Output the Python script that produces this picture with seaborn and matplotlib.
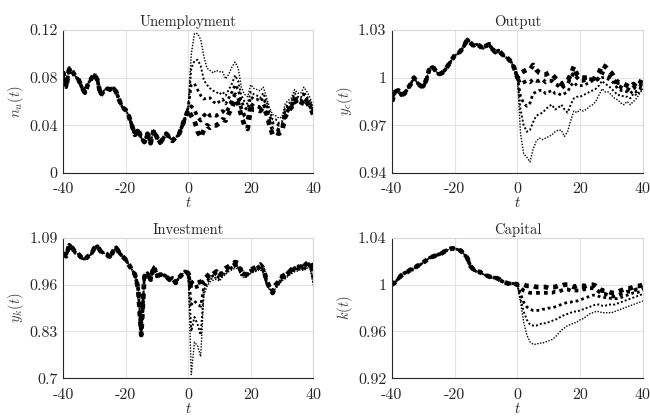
import numpy as np
import pandas as pd
import seaborn as sns
import matplotlib.pyplot as plt

# time axis
t_pre = list(range(-40, 1))
t_post = list(range(0, 41))

# ---- Unemployment n_u(t) ----
unemp_pre = [0.085, 0.072, 0.088, 0.085, 0.081, 0.078, 0.072, 0.067, 0.075, 0.079,
             0.083, 0.078, 0.065, 0.069, 0.071, 0.070, 0.072, 0.068, 0.061, 0.055,
             0.053, 0.048, 0.040, 0.032, 0.037, 0.029, 0.026, 0.033, 0.025, 0.036,
             0.030, 0.025, 0.029, 0.033, 0.030, 0.027, 0.030, 0.032, 0.039, 0.046,
             0.054]
unemp_post = [
    [0.053, 0.048, 0.044, 0.035, 0.030, 0.036, 0.040, 0.038, 0.040, 0.040, 0.042,
     0.045, 0.044, 0.050, 0.055, 0.062, 0.058, 0.048, 0.040, 0.037, 0.054, 0.053,
     0.053, 0.052, 0.055, 0.050, 0.040, 0.032, 0.034, 0.033, 0.035, 0.047, 0.052,
     0.055, 0.061, 0.057, 0.057, 0.062, 0.059, 0.055, 0.049],
    [0.053, 0.056, 0.053, 0.047, 0.044, 0.048, 0.051, 0.048, 0.049, 0.048, 0.050,
     0.052, 0.050, 0.055, 0.061, 0.066, 0.063, 0.054, 0.048, 0.045, 0.058, 0.056,
     0.056, 0.055, 0.058, 0.053, 0.043, 0.036, 0.037, 0.036, 0.037, 0.049, 0.053,
     0.056, 0.062, 0.059, 0.058, 0.063, 0.060, 0.056, 0.050],
    [0.055, 0.074, 0.075, 0.070, 0.065, 0.062, 0.063, 0.063, 0.060, 0.058, 0.060,
     0.062, 0.058, 0.063, 0.068, 0.074, 0.070, 0.060, 0.055, 0.053, 0.064, 0.062,
     0.062, 0.060, 0.063, 0.057, 0.048, 0.042, 0.042, 0.040, 0.040, 0.052, 0.056,
     0.058, 0.065, 0.061, 0.061, 0.066, 0.062, 0.058, 0.052],
    [0.055, 0.088, 0.094, 0.095, 0.090, 0.078, 0.074, 0.071, 0.069, 0.068, 0.066,
     0.068, 0.065, 0.070, 0.075, 0.082, 0.077, 0.065, 0.060, 0.058, 0.068, 0.066,
     0.065, 0.063, 0.067, 0.060, 0.052, 0.045, 0.045, 0.042, 0.043, 0.055, 0.058,
     0.060, 0.067, 0.064, 0.063, 0.068, 0.064, 0.060, 0.053],
    [0.055, 0.100, 0.117, 0.117, 0.112, 0.098, 0.088, 0.086, 0.084, 0.086, 0.085,
     0.085, 0.079, 0.083, 0.089, 0.093, 0.088, 0.072, 0.066, 0.064, 0.074, 0.071,
     0.070, 0.069, 0.072, 0.064, 0.055, 0.049, 0.048, 0.046, 0.047, 0.058, 0.061,
     0.063, 0.070, 0.067, 0.067, 0.072, 0.068, 0.063, 0.055],
]

# ---- Output y_c(t) ----
output_pre = [0.985, 0.991, 0.992, 0.989, 0.990, 0.993, 0.996, 1.000, 0.997, 0.995,
              0.994, 0.999, 1.006, 1.007, 1.004, 1.002, 1.003, 1.005, 1.008, 1.011,
              1.014, 1.015, 1.017, 1.020, 1.024, 1.022, 1.020, 1.021, 1.020, 1.018,
              1.020, 1.021, 1.018, 1.016, 1.017, 1.015, 1.013, 1.012, 1.010, 1.006,
              1.001]
output_post = [
    [1.000, 1.003, 1.004, 1.005, 1.005, 1.008, 1.005, 1.003, 1.002, 1.002, 1.003,
     1.002, 1.000, 0.998, 0.996, 0.997, 0.998, 1.002, 1.007, 1.002, 1.000, 1.000,
     1.000, 1.000, 0.999, 1.000, 1.003, 1.008, 1.007, 1.005, 1.003, 1.000, 0.997,
     0.997, 0.996, 0.995, 0.994, 0.996, 0.994, 0.996, 1.001],
    [1.000, 0.996, 0.997, 0.998, 0.997, 0.999, 0.998, 0.998, 0.999, 0.997, 0.998,
     0.998, 0.996, 0.995, 0.993, 0.995, 0.996, 1.000, 1.003, 1.000, 0.998, 0.998,
     0.999, 0.999, 0.999, 0.998, 1.000, 1.003, 1.002, 1.001, 1.000, 0.998, 0.995,
     0.994, 0.993, 0.993, 0.992, 0.994, 0.993, 0.994, 0.998],
    [1.000, 0.988, 0.984, 0.982, 0.984, 0.990, 0.991, 0.992, 0.992, 0.990, 0.991,
     0.992, 0.990, 0.990, 0.989, 0.990, 0.991, 0.995, 0.997, 0.995, 0.995, 0.995,
     0.996, 0.997, 0.998, 0.998, 0.999, 1.000, 1.000, 0.999, 0.998, 0.996, 0.993,
     0.992, 0.992, 0.991, 0.990, 0.992, 0.991, 0.993, 0.996],
    [1.000, 0.980, 0.970, 0.966, 0.967, 0.972, 0.976, 0.977, 0.978, 0.980, 0.982,
     0.983, 0.980, 0.981, 0.983, 0.980, 0.978, 0.983, 0.987, 0.988, 0.988, 0.989,
     0.990, 0.991, 0.992, 0.993, 0.995, 0.998, 0.996, 0.995, 0.993, 0.991, 0.989,
     0.989, 0.988, 0.988, 0.987, 0.990, 0.989, 0.991, 0.994],
    [1.000, 0.965, 0.952, 0.950, 0.947, 0.955, 0.960, 0.962, 0.961, 0.962, 0.963,
     0.964, 0.966, 0.967, 0.967, 0.963, 0.966, 0.973, 0.979, 0.978, 0.980, 0.979,
     0.980, 0.982, 0.983, 0.985, 0.989, 0.993, 0.991, 0.991, 0.989, 0.987, 0.986,
     0.984, 0.983, 0.985, 0.983, 0.985, 0.987, 0.990, 0.993],
]

# ---- Investment y_k(t) ----
invest_pre = [1.048, 1.039, 1.071, 1.062, 1.048, 1.044, 1.034, 1.030, 1.039, 1.044,
              1.062, 1.067, 1.053, 1.048, 1.045, 1.034, 1.053, 1.064, 1.048, 1.039,
              1.030, 1.016, 1.002, 0.988, 0.950, 0.820, 0.983, 0.992, 0.974, 1.011,
              0.983, 0.988, 0.988, 0.983, 0.974, 0.979, 0.965, 0.979, 0.988, 0.997,
              0.992]
invest_post = [
    [0.992, 0.965, 0.960, 0.965, 0.968, 0.975, 0.983, 0.992, 0.988, 0.997, 0.983,
     0.997, 1.006, 1.011, 1.016, 1.023, 1.020, 0.997, 0.983, 0.992, 1.002, 1.006,
     1.011, 1.016, 1.006, 0.974, 0.951, 0.937, 0.960, 0.969, 0.983, 0.988, 0.992,
     1.002, 1.011, 1.006, 1.016, 1.011, 1.020, 1.025, 0.997],
    [0.992, 0.950, 0.952, 0.955, 0.958, 0.970, 0.978, 0.986, 0.992, 0.990, 0.986,
     0.993, 1.000, 1.008, 1.012, 1.018, 1.015, 0.993, 0.990, 0.996, 0.999, 1.003,
     1.007, 1.012, 1.003, 0.972, 0.955, 0.942, 0.957, 0.972, 0.980, 0.984, 0.995,
     0.998, 1.006, 1.009, 1.012, 1.008, 1.016, 1.018, 0.985],
    [0.992, 0.905, 0.915, 0.905, 0.900, 0.955, 0.970, 0.980, 0.985, 0.984, 0.979,
     0.990, 0.995, 1.004, 1.008, 1.014, 1.012, 0.990, 0.986, 0.990, 0.997, 1.000,
     1.004, 1.008, 1.000, 0.968, 0.950, 0.945, 0.955, 0.966, 0.977, 0.982, 0.990,
     0.996, 1.002, 1.004, 1.008, 1.005, 1.012, 1.014, 0.975],
    [0.992, 0.830, 0.870, 0.850, 0.820, 0.945, 0.962, 0.975, 0.978, 0.980, 0.975,
     0.986, 0.992, 1.000, 1.005, 1.010, 1.008, 0.987, 0.982, 0.987, 0.994, 0.998,
     1.001, 1.005, 0.997, 0.965, 0.948, 0.943, 0.952, 0.962, 0.974, 0.979, 0.987,
     0.993, 0.999, 1.001, 1.005, 1.002, 1.009, 1.011, 0.965],
    [0.992, 0.710, 0.800, 0.790, 0.760, 0.930, 0.955, 0.968, 0.972, 0.975, 0.970,
     0.982, 0.989, 0.996, 1.001, 1.006, 1.004, 0.984, 0.979, 0.984, 0.991, 0.995,
     0.998, 1.002, 0.994, 0.962, 0.945, 0.940, 0.950, 0.959, 0.971, 0.976, 0.984,
     0.990, 0.996, 0.998, 1.002, 0.999, 1.006, 1.008, 0.958],
]

# ---- Capital k(t) ----
capital_pre = [1.000, 1.002, 1.005, 1.008, 1.010, 1.011, 1.013, 1.013, 1.016, 1.017,
               1.019, 1.021, 1.023, 1.024, 1.025, 1.026, 1.027, 1.029, 1.030, 1.031,
               1.031, 1.030, 1.029, 1.026, 1.023, 1.016, 1.013, 1.011, 1.011, 1.009,
               1.008, 1.007, 1.006, 1.006, 1.005, 1.003, 1.002, 1.001, 1.001, 1.001,
               1.000]
capital_post = [
    [1.000, 1.000, 1.000, 0.999, 0.999, 0.999, 0.998, 0.998, 0.998, 0.998, 0.997,
     0.998, 0.998, 0.999, 0.999, 1.000, 1.000, 0.999, 0.998, 0.999, 0.999, 0.999,
     0.999, 1.000, 1.000, 0.999, 0.997, 0.995, 0.995, 0.994, 0.993, 0.993, 0.994,
     0.995, 0.996, 0.997, 0.997, 0.998, 0.999, 0.999, 1.000],
    [1.000, 0.997, 0.995, 0.994, 0.993, 0.993, 0.993, 0.993, 0.993, 0.993, 0.993,
     0.993, 0.994, 0.994, 0.995, 0.996, 0.996, 0.995, 0.995, 0.995, 0.995, 0.996,
     0.996, 0.997, 0.997, 0.996, 0.994, 0.992, 0.992, 0.991, 0.990, 0.990, 0.991,
     0.992, 0.993, 0.994, 0.994, 0.995, 0.996, 0.996, 0.997],
    [1.000, 0.992, 0.985, 0.981, 0.979, 0.978, 0.978, 0.978, 0.979, 0.979, 0.980,
     0.980, 0.981, 0.982, 0.983, 0.984, 0.985, 0.985, 0.986, 0.986, 0.987, 0.988,
     0.989, 0.990, 0.991, 0.991, 0.990, 0.989, 0.989, 0.989, 0.988, 0.988, 0.988,
     0.989, 0.990, 0.991, 0.992, 0.993, 0.993, 0.994, 0.995],
    [1.000, 0.988, 0.977, 0.970, 0.966, 0.965, 0.965, 0.966, 0.967, 0.967, 0.968,
     0.969, 0.970, 0.971, 0.973, 0.974, 0.975, 0.976, 0.977, 0.977, 0.978, 0.979,
     0.980, 0.981, 0.982, 0.983, 0.983, 0.982, 0.982, 0.983, 0.983, 0.983, 0.984,
     0.985, 0.986, 0.987, 0.988, 0.989, 0.990, 0.991, 0.992],
    [1.000, 0.985, 0.968, 0.957, 0.951, 0.949, 0.949, 0.950, 0.950, 0.951, 0.952,
     0.953, 0.955, 0.958, 0.961, 0.963, 0.965, 0.966, 0.967, 0.968, 0.970, 0.971,
     0.973, 0.975, 0.976, 0.977, 0.977, 0.976, 0.976, 0.976, 0.976, 0.977, 0.978,
     0.979, 0.980, 0.981, 0.982, 0.983, 0.984, 0.985, 0.986],
]

titles = ['Unemployment', 'Output', 'Investment', 'Capital']
ylabels = ['$n_u(t)$', '$y_c(t)$', '$y_k(t)$', '$k(t)$']
yticks = [[0, 0.04, 0.08, 0.12], [0.94, 0.97, 1.0, 1.03],
          [0.7, 0.83, 0.96, 1.09], [0.92, 0.96, 1.0, 1.04]]
ytick_labels = [['0', '0.04', '0.08', '0.12'], ['0.94', '0.97', '1', '1.03'],
                ['0.7', '0.83', '0.96', '1.09'], ['0.92', '0.96', '1', '1.04']]
xticks = [-40, -20, 0, 20, 40]
xtick_labels = ['-40', '-20', '0', '20', '40']

line_widths = [3.4, 2.7, 2.0, 1.4, 1.0]

sns.set_style('whitegrid')
plt.rcParams['font.family'] = 'serif'
plt.rcParams['font.serif'] = ['cmr10', 'DejaVu Serif']
plt.rcParams['mathtext.fontset'] = 'cm'
plt.rcParams['axes.unicode_minus'] = False

fig = plt.figure(figsize=(6.5, 4.16), dpi=100)
positions = [[0.097, 0.584, 0.385, 0.344], [0.603, 0.584, 0.386, 0.344],
             [0.097, 0.091, 0.385, 0.337], [0.603, 0.091, 0.386, 0.337]]

panels = [(unemp_pre, unemp_post), (output_pre, output_post),
          (invest_pre, invest_post), (capital_pre, capital_post)]

for i, (pre, post) in enumerate(panels):
    ax = fig.add_axes(positions[i])
    for j, series in enumerate(post):
        t = t_pre[:-1] + t_post
        y = pre[:-1] + series
        df = pd.DataFrame({'t': t, 'y': y})
        sns.lineplot(data=df, x='t', y='y', ax=ax, color='black',
                     lw=line_widths[j], linestyle=(0, (1, 1.1)),
                     estimator=None, sort=False)
    ax.set_xlim(-40, 40)
    ax.set_ylim(yticks[i][0], yticks[i][-1])
    ax.set_xticks(xticks)
    ax.set_xticklabels(xtick_labels)
    ax.set_yticks(yticks[i])
    ax.set_yticklabels(ytick_labels[i])
    ax.tick_params(labelsize=11.5, colors='#262626', direction='in', length=2.5,
                   width=0.6)
    ax.tick_params(axis='x', pad=7)
    ax.tick_params(axis='y', pad=4)
    ax.grid(True, color='#e3e3e3', lw=0.8)
    ax.set_axisbelow(True)
    for s in ['left', 'bottom']:
        ax.spines[s].set_color('#262626')
        ax.spines[s].set_linewidth(0.8)
    for s in ['top', 'right']:
        ax.spines[s].set_color('#d8d8d8')
        ax.spines[s].set_linewidth(0.8)
    ax.set_title(titles[i], fontsize=10.5, color='#262626', pad=3)
    ax.set_xlabel('$t$', fontsize=10.5, color='#262626', labelpad=0)
    ax.set_ylabel(ylabels[i], fontsize=10.5, color='#404040', labelpad=2)

fig.savefig('out.png', dpi=100)
